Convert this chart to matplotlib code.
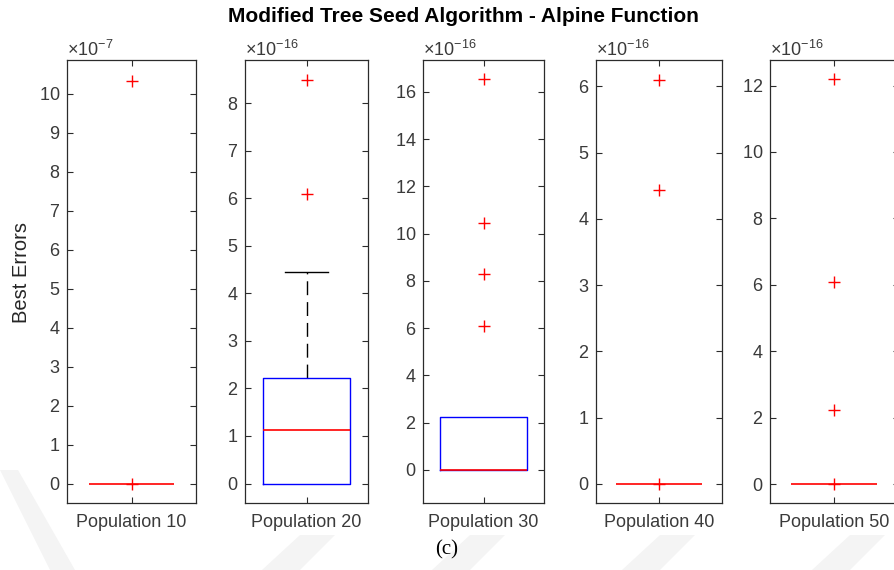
import matplotlib
matplotlib.use("Agg")
import matplotlib.pyplot as plt
from matplotlib.patches import Polygon

plt.rcParams["font.family"] = ["Liberation Sans", "DejaVu Sans"]
plt.rcParams["mathtext.fontset"] = "custom"
plt.rcParams["mathtext.rm"] = "Liberation Sans"
plt.rcParams["mathtext.it"] = "Liberation Sans:italic"
plt.rcParams["font.size"] = 13

# ---- data: best errors per population size (boxplot summaries) ----
populations = ["Population 10", "Population 20", "Population 30", "Population 40", "Population 50"]
exponents = [-7, -16, -16, -16, -16]

q1 = [0.0, 0.0, 0.0, 0.0, 0.0]
medians = [0.0, 1.12, 0.0, 0.0, 0.0]
q3 = [0.0, 2.22, 2.22, 0.0, 0.0]
whisker_low = [0.0, 0.0, 0.0, 0.0, 0.0]
whisker_high = [0.0, 4.44, 2.22, 0.0, 0.0]
outliers = [
    [0.0, 10.34],
    [6.10, 8.48],
    [6.10, 8.30, 10.45, 16.55],
    [0.0, 4.43, 6.10],
    [0.0, 2.22, 6.10, 12.19],
]
y_limits = [(-0.49, 10.87), (-0.41, 8.91), (-1.40, 17.35), (-0.29, 6.40), (-0.57, 12.77)]
y_steps = [1, 1, 2, 1, 2]

# ---- layout (pixels of the 894x570 canvas) ----
W, H = 894, 570
lefts = [67, 245, 423, 596, 770]
rights = [196, 368, 544, 722, 898.6]
top_px, bottom_px = 60, 503
box_widths = [0.66, 0.715, 0.72, 0.675, 0.67]

fig = plt.figure(figsize=(W / 100, H / 100), dpi=100)

# faint diagonal watermark bands in the lower strip
band_color = "#f4f4f4"
bands = [
    [(0, 470), (18, 470), (75, 570), (50, 570)],
    [(300, 535), (335, 535), (300, 570), (262, 570)],
    [(470, 535), (505, 535), (470, 570), (432, 570)],
    [(660, 535), (695, 535), (660, 570), (622, 570)],
    [(850, 535), (885, 535), (850, 570), (812, 570)],
]
for b in bands:
    fig.patches.append(Polygon([(x / W, 1 - y / H) for x, y in b], closed=True,
                               transform=fig.transFigure, facecolor=band_color,
                               edgecolor="none", zorder=0))

text_color = "#3a3a3a"
spine_color = "#2b2b2b"

for i in range(5):
    scale = 10.0 ** exponents[i]
    ax = fig.add_axes([lefts[i] / W, 1 - bottom_px / H,
                       (rights[i] - lefts[i]) / W, (bottom_px - top_px) / H])
    stats = [{
        "label": populations[i],
        "med": medians[i] * scale,
        "q1": q1[i] * scale,
        "q3": q3[i] * scale,
        "whislo": whisker_low[i] * scale,
        "whishi": whisker_high[i] * scale,
        "fliers": [v * scale for v in outliers[i]],
    }]
    parts = ax.bxp(stats, positions=[1], widths=[box_widths[i]],
                   capwidths=[box_widths[i] * 0.48],
                   showfliers=True, manage_ticks=False,
                   boxprops=dict(color="#0000ff", linewidth=1.0),
                   medianprops=dict(color="#ff0000", linewidth=1.2),
                   whiskerprops=dict(color="black", linewidth=1.0, linestyle=(0, (10, 5))),
                   capprops=dict(color="black", linewidth=1.0),
                   flierprops=dict(marker="+", markeredgecolor="#ff0000", markersize=9,
                                   markeredgewidth=1.0, linestyle="none"))
    # whiskers and caps sit underneath the box; zero-length whiskers are hidden
    lower_empty = whisker_low[i] == q1[i]
    upper_empty = whisker_high[i] == q3[i]
    for k, art in enumerate(parts["whiskers"]):
        art.set_zorder(1.5)
        art.set_visible(not (lower_empty if k == 0 else upper_empty))
    for k, art in enumerate(parts["caps"]):
        art.set_zorder(1.5)
        art.set_visible(not (lower_empty if k == 0 else upper_empty))
    for art in parts["boxes"]:
        art.set_zorder(3)
        art.set_visible(q3[i] > q1[i])
    for art in parts["medians"]:
        art.set_zorder(4)
    for art in parts["fliers"]:
        art.set_zorder(5)

    lo, hi = y_limits[i]
    ax.set_xlim(0.5, 1.5)
    ax.set_ylim(lo * scale, hi * scale)
    step = y_steps[i]
    ticks = [k * step * scale for k in range(0, int(hi // step) + 1)]
    ax.set_yticks(ticks)
    ax.set_xticks([1])
    ax.set_xticklabels([populations[i]])
    ax.ticklabel_format(axis="y", style="sci", scilimits=(exponents[i], exponents[i]),
                        useMathText=True)

    ax.tick_params(direction="in", top=True, right=True, length=4.5, width=0.8,
                   color=spine_color, labelcolor=text_color, labelsize=13)
    ax.tick_params(axis="x", pad=8)
    ax.tick_params(axis="y", pad=5)
    off = ax.yaxis.get_offset_text()
    off.set_fontsize(13)
    off.set_color(text_color)
    for s in ax.spines.values():
        s.set_color(spine_color)
        s.set_linewidth(0.9)

fig.text(463 / W, 1 - 17 / H, "Modified Tree Seed Algorithm - Alpine Function",
         ha="center", va="center", fontsize=15, fontweight="bold", color="black")
fig.text(22 / W, 1 - 273 / H, "Best Errors", rotation=90, ha="center", va="center",
         fontsize=14.5, color="#262626")
fig.text(447 / W, 1 - 550 / H, "(c)", ha="center", va="center", fontsize=15,
         family=["Liberation Serif", "DejaVu Serif"], color="black")

fig.savefig("out.png", dpi=100)
